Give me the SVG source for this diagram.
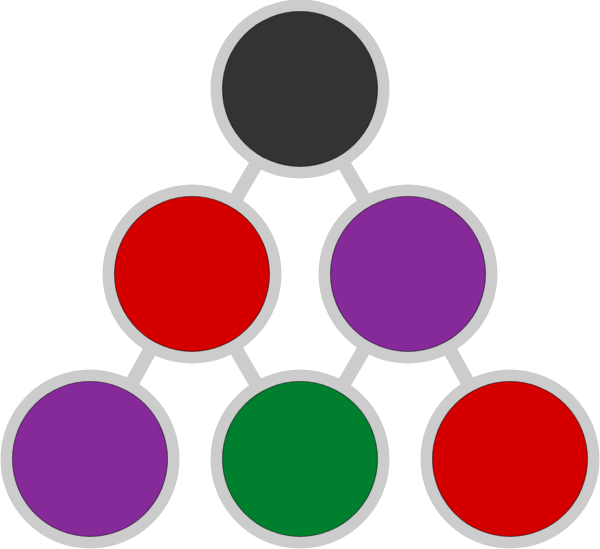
<svg xmlns="http://www.w3.org/2000/svg" width="600" height="549" viewBox="0 0 600 549">
<style>
.edge{stroke:#cccccc;stroke-width:14;fill:none}
.ring{fill:#cccccc}
.core{stroke:#000;stroke-opacity:0.45;stroke-width:1.2}
.dark{fill:#333333}
.red{fill:#d40000}
.purple{fill:#862a9a}
.green{fill:#007f2f}
</style>
<g id="connectors">
<line class="edge" x1="300" y1="89" x2="192" y2="274"/>
<line class="edge" x1="300" y1="89" x2="408" y2="274"/>
<line class="edge" x1="192" y1="274" x2="90" y2="459"/>
<line class="edge" x1="192" y1="274" x2="300" y2="459"/>
<line class="edge" x1="408" y1="274" x2="300" y2="459"/>
<line class="edge" x1="408" y1="274" x2="510" y2="459"/>
</g>
<g id="n1"><circle class="ring" cx="300" cy="89" r="89.5"/><circle class="core dark" cx="300" cy="89" r="77.5"/></g>
<g id="n2"><circle class="ring" cx="192" cy="274" r="89.5"/><circle class="core red" cx="192" cy="274" r="77.5"/></g>
<g id="n3"><circle class="ring" cx="408" cy="274" r="89.5"/><circle class="core purple" cx="408" cy="274" r="77.5"/></g>
<g id="n4"><circle class="ring" cx="90" cy="459" r="89.5"/><circle class="core purple" cx="90" cy="459" r="77.5"/></g>
<g id="n5"><circle class="ring" cx="300" cy="459" r="89.5"/><circle class="core green" cx="300" cy="459" r="77.5"/></g>
<g id="n6"><circle class="ring" cx="510" cy="459" r="89.5"/><circle class="core red" cx="510" cy="459" r="77.5"/></g>
</svg>
